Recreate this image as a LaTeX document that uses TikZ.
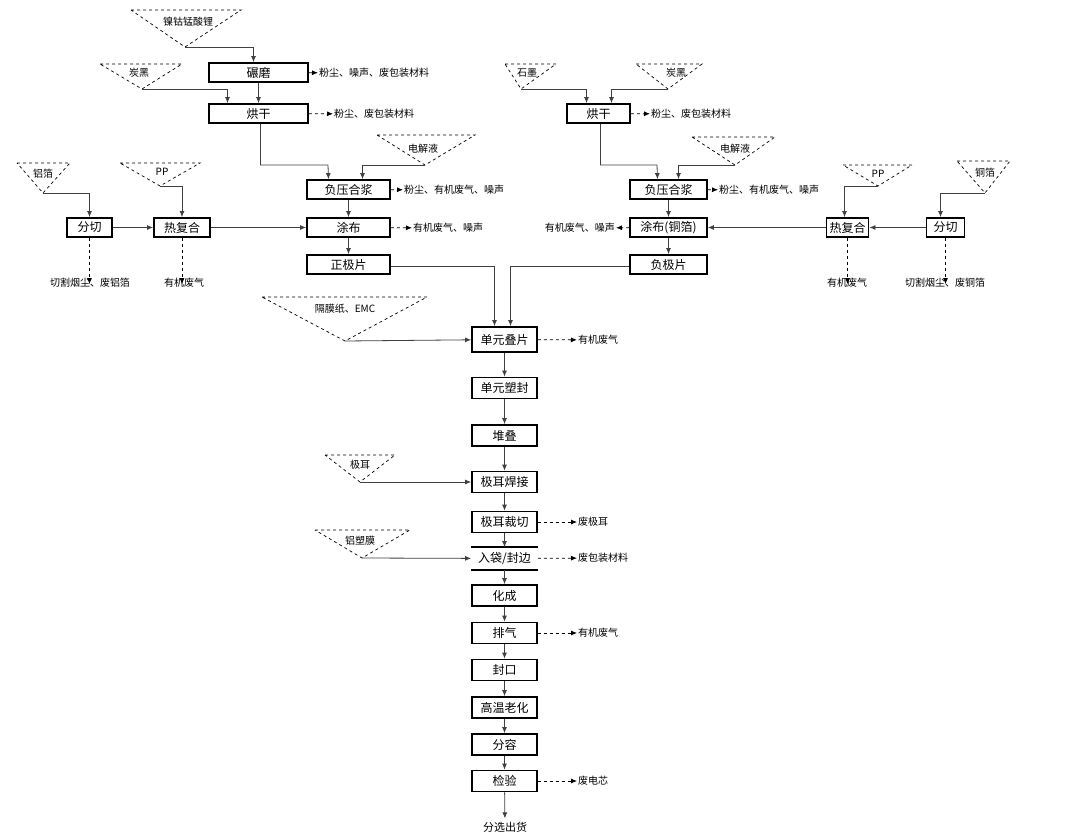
\documentclass[tikz,border=0pt]{standalone}
\usepackage{fontspec}
\setmainfont{Noto Sans CJK SC}
\usetikzlibrary{arrows.meta}
\begin{document}
\begin{tikzpicture}[x=1pt,y=-1pt,
 box/.style={draw,line width=1.8pt,minimum height=19pt,inner sep=0pt,font=\fontsize{12}{12}\selectfont},
 cbox/.style={box,minimum width=65pt,minimum height=21pt},
 lab/.style={font=\fontsize{10}{10}\selectfont,inner sep=1pt},
 tlab/.style={font=\fontsize{10}{10}\selectfont,inner sep=0pt},
 tri/.style={dashed,line width=0.7pt},
 ln/.style={line width=0.8pt,draw=black!75,-{Latex[length=6pt,width=5pt]}},
 dl/.style={dashed,line width=0.8pt,-{Latex[length=6pt,width=5pt]}}]
\useasboundingbox (0,0) rectangle (1080,840);
% left triangles
\draw[tri] (131,10)--(241,10)--(185,47)--cycle; \coordinate (tA) at (185,47); \node[tlab] (ttA) at (188,22) {镍钴锰酸锂};
\draw[tri] (100,64)--(182,64)--(142,89)--cycle; \coordinate (tB) at (142,89); \node[tlab] (ttB) at (139,73) {炭黑};
\draw[tri] (377,135)--(475,135)--(425,165)--cycle; \coordinate (tC) at (425,165); \node[tlab] (ttC) at (423,149) {电解液};
\draw[tri] (17,163)--(70,163)--(43,193)--cycle; \coordinate (tD) at (43,193); \node[tlab] (ttD) at (43,174) {铝箔};
\draw[tri] (120,163)--(200,163)--(160,186)--cycle; \coordinate (tE) at (160,186); \node[tlab] (ttE) at (162,172) {PP};
% right triangles
\draw[tri] (505,64)--(556,64)--(521,89)--cycle; \coordinate (tF) at (521,89); \node[tlab] (ttF) at (527,73) {石墨};
\draw[tri] (636,64)--(702,64)--(668,89)--cycle; \coordinate (tG) at (668,89); \node[tlab] (ttG) at (676,73) {炭黑};
\draw[tri] (692,137)--(775,137)--(735,165)--cycle; \coordinate (tH) at (735,165); \node[tlab] (ttH) at (735,149) {电解液};
\draw[tri] (843,165)--(912,165)--(878,186)--cycle; \coordinate (tI) at (878,186); \node[tlab] (ttI) at (878,174) {PP};
\draw[tri] (957,161)--(1010,161)--(985,193)--cycle; \coordinate (tJ) at (985,193); \node[tlab] (ttJ) at (985,173) {铜箔};
% center triangles
\draw[tri] (262,297)--(427,297)--(345,341)--cycle; \coordinate (tK) at (345,341); \node[tlab] (ttK) at (345,309) {隔膜纸、EMC};
\draw[tri] (325,455)--(395,455)--(360,482)--cycle; \coordinate (tL) at (360,482); \node[tlab] (ttL) at (360,465) {极耳};
\draw[tri] (315,530)--(410,530)--(362,558)--cycle; \coordinate (tM) at (362,558); \node[tlab] (ttM) at (360,541) {铝塑膜};
% left boxes
\node[box,minimum width=99pt] (nm) at (258.5,72.5) {碾磨};
\node[box,minimum width=99pt] (hg) at (258.5,113.5) {烘干};
\node[box,minimum width=83pt] (fy) at (348.5,189.5) {负压合浆};
\node[box,minimum width=83pt] (tb) at (348.5,227.5) {涂布};
\node[box,minimum width=83pt] (zj) at (348.5,264.5) {正极片};
\node[box,minimum width=45pt] (fq) at (89.5,227.5) {分切};
\node[box,minimum width=56pt] (rf) at (182,227.5) {热复合};
% right boxes
\node[box,minimum width=63pt] (hg2) at (598.5,113.5) {烘干};
\node[box,minimum width=77pt] (fy2) at (668.5,189.5) {负压合浆};
\node[box,minimum width=77pt] (tb2) at (668.5,227.5) {涂布(铜箔)};
\node[box,minimum width=77pt] (fj) at (668.5,264.5) {负极片};
\node[box,minimum width=42pt] (rf2) at (847.5,227.5) {热复合};
\node[box,minimum width=38pt] (fq2) at (945.5,227.5) {分切};
% center boxes
\node[cbox,minimum height=25pt] (c1) at (504.5,339.5) {单元叠片};
\node[cbox] (c2) at (504.5,388) {单元塑封};
\node[cbox] (c3) at (504.5,435.5) {堆叠};
\node[cbox] (c4) at (504.5,482) {极耳焊接};
\node[cbox] (c5) at (504.5,522) {极耳裁切};
\node[cbox,draw=none] (c6) at (504.5,558.5) {入袋/封边};
\draw[line width=1.8pt] (c6.north west)--(c6.north east) (c6.south west)--(c6.south east);
\node[cbox] (c7) at (504.5,595.5) {化成};
\node[cbox] (c8) at (504.5,633) {排气};
\node[cbox] (c9) at (504.5,670) {封口};
\node[cbox] (c10) at (504.5,707.5) {高温老化};
\node[cbox] (c11) at (504.5,744.5) {分容};
\node[cbox] (c12) at (504.5,781) {检验};
\node[font=\fontsize{11}{11}\selectfont] (out) at (505,827) {分选出货};
% side labels
\node[lab,anchor=west] (l1) at (318,73) {粉尘、噪声、废包装材料};
\node[lab,anchor=west] (l2) at (333,114) {粉尘、废包装材料};
\node[lab,anchor=west] (l3) at (403,190) {粉尘、有机废气、噪声};
\node[lab,anchor=west] (l4) at (412,228) {有机废气、噪声};
\node[lab,anchor=west] (l5) at (650,114) {粉尘、废包装材料};
\node[lab,anchor=west] (l6) at (718,190) {粉尘、有机废气、噪声};
\node[lab,anchor=east] (l7) at (616,228) {有机废气、噪声};
\node[lab] (l8) at (90,283) {切割烟尘、废铝箔};
\node[lab] (l9) at (184,283) {有机废气};
\node[lab] (l10) at (847,283) {有机废气};
\node[lab] (l11) at (945,283) {切割烟尘、废铜箔};
\node[lab,anchor=west] (l12) at (577,340) {有机废气};
\node[lab,anchor=west] (l13) at (577,522) {废极耳};
\node[lab,anchor=west] (l14) at (577,558) {废包装材料};
\node[lab,anchor=west] (l15) at (577,633) {有机废气};
\node[lab,anchor=west] (l16) at (577,781) {废电芯};
% connectors left
\draw[ln] (tA) -| ([xshift=-5pt]nm.north);
\draw[ln] (nm) -- (hg);
\draw[ln] (tB) -| ([xshift=-31pt]hg.north);
\draw[ln] ([xshift=2pt]hg.south) |- (328,165) -- ([xshift=-20pt]fy.north);
\draw[ln] (tC) -| ([xshift=14pt]fy.north);
\draw[ln] (fy) -- (tb);
\draw[ln] (tb) -- (zj);
\draw[ln] (tD) -| (fq.north);
\draw[ln] (tE) -| (rf.north);
\draw[ln] (fq) -- (rf);
\draw[ln] (rf) -- (tb);
\draw[dl] (fq.south) -- ([yshift=-7pt]l8.north-|fq.south);
\draw[dl] (rf.south) -- ([yshift=-7pt]l9.north-|rf.south);
\draw[dl] (nm) -- (l1);
\draw[dl] (hg) -- (l2);
\draw[dl] (fy) -- (l3);
\draw[dl] (tb) -- (l4);
% connectors right
\draw[ln] (tF) -| ([xshift=-12pt]hg2.north);
\draw[ln] (tG) -| ([xshift=13pt]hg2.north);
\draw[ln] ([xshift=2pt]hg2.south) |- (657,165) -- ([xshift=-11pt]fy2.north);
\draw[ln] (tH) -| ([xshift=10pt]fy2.north);
\draw[ln] (fy2) -- (tb2);
\draw[ln] (tb2) -- (fj);
\draw[ln] (tI) -| ([xshift=-3pt]rf2.north);
\draw[ln] (tJ) -| ([xshift=-5pt]fq2.north);
\draw[ln] (fq2) -- (rf2);
\draw[ln] (rf2) -- (tb2);
\draw[dl] (rf2.south) -- ([yshift=-7pt]l10.north-|rf2.south);
\draw[dl] (fq2.south) -- ([yshift=-7pt]l11.north-|fq2.south);
\draw[dl] (hg2) -- (l5);
\draw[dl] (fy2) -- (l6);
\draw[dl] (tb2) -- (l7);
% center connectors
\draw[ln] ([yshift=-2pt]zj.east) -| ([xshift=-10pt]c1.north);
\draw[ln] ([yshift=-2pt]fj.west) -| ([xshift=6pt]c1.north);
\draw[ln] (tK) -- (c1);
\draw[ln] (tL) -- (c4);
\draw[ln] (tM) -- (c6);
\foreach \a/\b in {c1/c2,c2/c3,c3/c4,c4/c5,c5/c6,c6/c7,c7/c8,c8/c9,c9/c10,c10/c11,c11/c12,c12/out}
 \draw[ln] (\a) -- (\b);
\draw[dl] (c1) -- (l12);
\draw[dl] (c5) -- (l13);
\draw[dl] (c6) -- (l14);
\draw[dl] (c8) -- (l15);
\draw[dl] (c12) -- (l16);
\end{tikzpicture}
\end{document}
